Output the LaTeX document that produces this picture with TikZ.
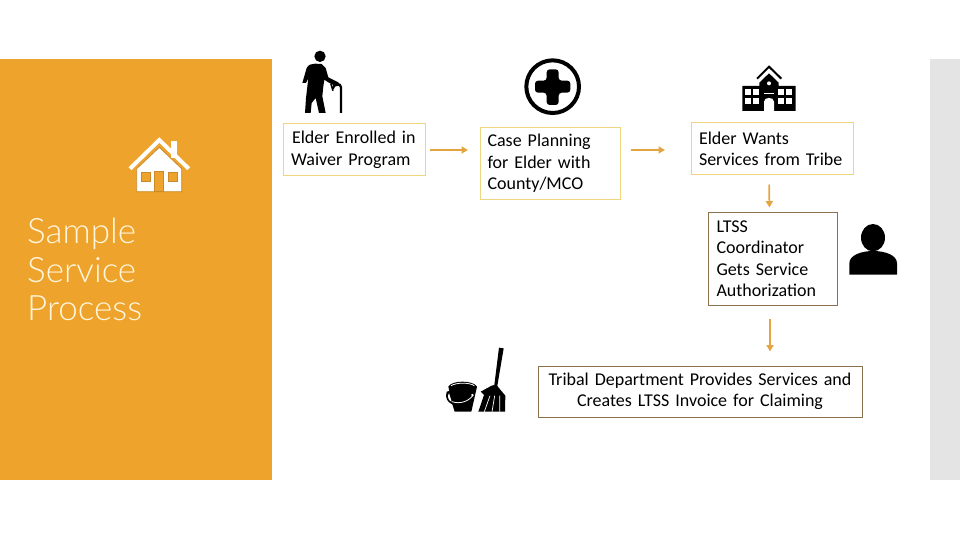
\documentclass[tikz,border=0pt]{standalone}
\usepackage{fontspec}
\setmainfont[WordSpace=0.65]{Carlito}
\newfontfamily\titlefont[UprightFont=* Light]{Lato}
\usetikzlibrary{arrows.meta}
\definecolor{panel orange}{HTML}{EEA32D}
\definecolor{panel grey}{HTML}{E4E4E4}
\definecolor{title cream}{HTML}{FFF6DC}
\definecolor{edge yellow}{HTML}{EFD67E}
\definecolor{edge brown}{HTML}{8A7250}
\definecolor{house edge}{HTML}{C98A2B}
\definecolor{arrow orange}{HTML}{E3A540}
\tikzset{yellowbox/.style={draw=edge yellow, line width=1pt, fill=white, inner sep=0pt,
        text=black, font=\fontsize{18}{21.5}\selectfont, align=left},
    brownbox/.style={yellowbox, draw=edge brown},
    flow/.style={draw=arrow orange, line width=1.7pt, -{Triangle[length=6.5pt,width=7pt]}},
    icon/.style={fill=black, draw=none}}
\begin{document}
\begin{tikzpicture}[x=1pt, y=-1pt]
    \useasboundingbox (0,0) rectangle (960,540);
    \fill[panel orange] (0,59) rectangle (272,480);
    \fill[panel grey] (930,59) rectangle (960,480);
    \node[anchor=north west, inner sep=0pt, text=title cream, align=left,
        font=\titlefont\fontsize{35}{38.5}\selectfont] (title) at (27,218) {Sample\\Service\\Process};
    % boxes
    \node[yellowbox, minimum width=142pt, minimum height=52pt, text width=134pt] (enrolled) at (354,150)
        {\hspace*{5pt}Elder Enrolled in\\\hspace*{4pt}Waiver Program};
    \node[yellowbox, minimum width=140pt, minimum height=72pt, text width=126pt] (planning) at (550.5,163.5)
        {Case Planning\\for Elder with\\County/MCO};
    \node[yellowbox, minimum width=162pt, minimum height=52pt, text width=146pt] (wants) at (772,149)
        {Elder Wants\\Services from Tribe};
    \node[brownbox, minimum width=129pt, minimum height=93pt, text width=112pt] (coordinator) at (772.5,258.5)
        {LTSS\\Coordinator\\Gets Service\\Authorization};
    \node[brownbox, minimum width=324pt, minimum height=51pt, text width=320pt, align=center] (invoice) at (700,391.5)
        {Tribal Department Provides Services and\\Creates LTSS Invoice for Claiming};
    % arrows
    \draw[flow, shorten <=4pt, shorten >=12pt] (enrolled.east) -- (enrolled.east -| planning.west);
    \draw[flow, shorten <=10pt, shorten >=26pt] (planning.east |- wants.west) ++(0,1) -- (691,150);
    \draw[flow, shorten <=9pt, shorten >=4pt] ([xshift=-3pt]wants.south) -- ([xshift=-3pt]coordinator.north);
    \draw[flow, shorten <=13pt, shorten >=14pt] ([xshift=-2.5pt]coordinator.south) -- ([xshift=-2.5pt]coordinator.south |- invoice.north);
    % house
    \begin{scope}[shift={(0,120)}, scale=1/3]
        \fill[white] (514,64) rectangle (532,115);
        \fill[white, draw=house edge, line width=0.8pt] (410,215) -- (410,146) -- (478,82) -- (545,146) -- (545,215) -- cycle;
        \draw[white, line width=4pt, line join=miter] (390,146) -- (478,60) -- (566,146);
        \fill[panel orange, draw=house edge, line width=0.8pt] (463,215) -- (463,155) -- (490,155) -- (490,215) -- cycle;
        \fill[panel orange, draw=house edge, line width=0.8pt] (423,158) rectangle (450,185) (505,158) rectangle (532,185);
    \end{scope}
    % walker
    \begin{scope}[shift={(295,48)}, scale=1/3]
        \fill[icon] (75,25) circle (17);
        \fill[icon] (22,105) -- (35,60) .. controls (40,50) and (50,47) .. (60,47) -- (80,48) -- (92,60) -- (100,88)
            -- (130,103) -- (135,112) -- (122,115) -- (100,103) -- (88,95) -- (85,115) -- (82,145) -- (92,195)
            -- (72,195) -- (62,150) -- (50,165) -- (47,195) -- (30,195) -- (33,150) -- (40,90) -- (33,105) -- cycle;
        \draw[black, line width=1.6pt] (108,108) -- (114,128);
        \draw[black, line width=2.3pt] (113,122) .. controls (116,106) and (138,104) .. (138,118) -- (138,195);
    \end{scope}
    % medical cross
    \begin{scope}[shift={(280,40)}, scale=1/3]
        \draw[black, line width=4pt] (818,140) circle (79);
        \fill[icon, rounded corners=3pt] (800,88) -- (836,88) -- (836,122) -- (871,122) -- (871,158) -- (836,158)
            -- (836,195) -- (800,195) -- (800,158) -- (765,158) -- (765,122) -- (800,122) -- cycle;
    \end{scope}
    % school
    \begin{scope}[shift={(620,50)}, scale=1/3]
        \draw[black, line width=2pt, line cap=butt] (411,86) -- (447,50) -- (484,86);
        \fill[icon] (367,108) -- (418,108) -- (418,98) -- (447,70) -- (476,98) -- (476,108) -- (527,108) -- (527,183) -- (367,183) -- cycle;
        \foreach \wx in {375,399,474,498} {
            \foreach \wy in {117,144} {
                \fill[white] (\wx,\wy) rectangle ++(19,17);
            }
        }
        \fill[white] (447,100) circle (6);
        \fill[white] (432,129) rectangle (462,133);
        \fill[white] (432,183) -- (432,155) .. controls (432,140) and (462,140) .. (462,155) -- (462,183) -- cycle;
    \end{scope}
    % person
    \begin{scope}[shift={(690,175)}, scale=1/3]
        \fill[icon] (549,188) ellipse (36 and 41);
        \fill[icon] (478,299) -- (478,265) .. controls (478,240) and (515,228) .. (549,228)
            .. controls (585,228) and (621,240) .. (621,265) -- (621,299) -- cycle;
    \end{scope}
    % bucket and broom
    \begin{scope}[shift={(440,345)}, scale=1/3]
        \fill[icon] (25,125) .. controls (35,105) and (100,105) .. (111,125) -- (94,200) -- (44,200) -- (37,178)
            .. controls (22,172) and (14,158) .. (20,140) -- (28,138) -- cycle;
        \fill[white] (27,144) .. controls (20,156) and (26,167) .. (35,170) -- cycle;
        \draw[white, line width=0.8pt] (33,122) .. controls (50,112) and (88,112) .. (103,122);
        \draw[white, line width=0.8pt] (36,170) .. controls (60,178) and (85,170) .. (100,150);
        \fill[white] (97,150) circle (3.5);
        \fill[icon] (177,8) -- (191,10) -- (172,122) -- (176,128) -- (196,152) -- (195,200) -- (115,200) -- (132,150)
            -- (122,140) -- (155,122) -- (163,120) -- cycle;
        \draw[white, line width=0.7pt] (150,152) -- (133,200) (164,152) -- (156,200) (179,152) -- (179,200);
    \end{scope}
\end{tikzpicture}
\end{document}
